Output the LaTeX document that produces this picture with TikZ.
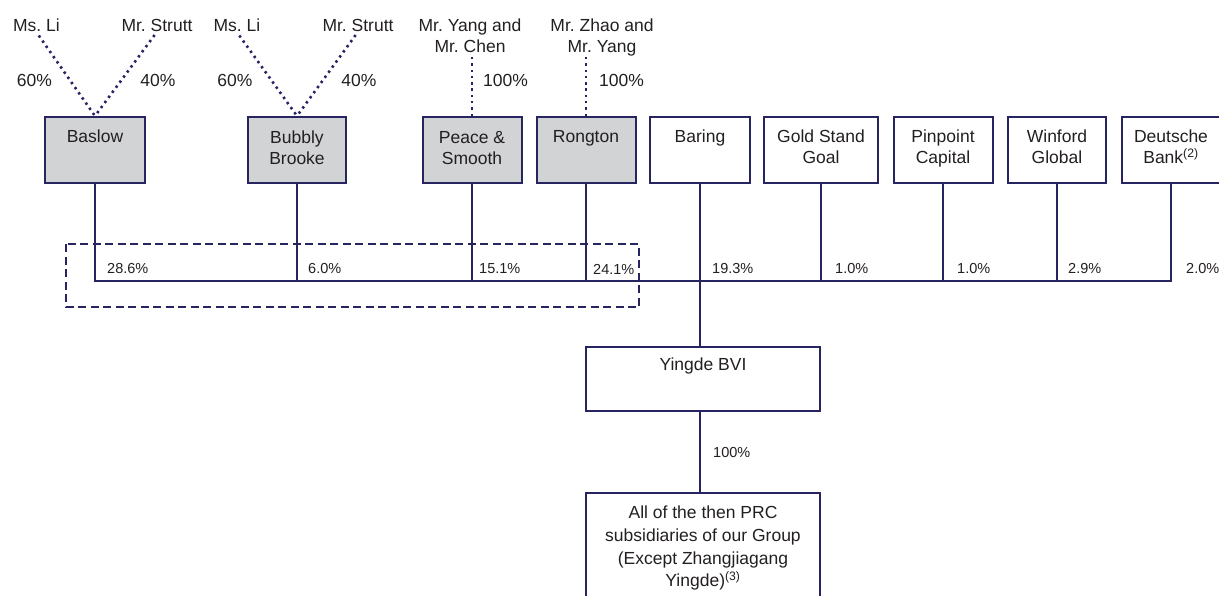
\documentclass[tikz,border=0pt]{standalone}
\usepackage{fontspec}
\setmainfont{Liberation Sans}
\usetikzlibrary{calc}
\definecolor{navy}{RGB}{38,37,98}
\definecolor{boxgrey}{RGB}{209,211,212}
\definecolor{ink}{RGB}{35,31,32}
\frenchspacing

\begin{document}
\begin{tikzpicture}[x=1pt,y=-1pt,
  every node/.style={text=ink},
  entity/.style={draw=navy, line width=2pt, minimum height=66pt, inner sep=0pt},
  held/.style={entity, fill=boxgrey},
  boxtext/.style={anchor=north, inner sep=0pt, align=center, font=\fontsize{17.5}{21}\selectfont},
  owner/.style={anchor=north, inner sep=0pt, align=center, font=\fontsize{17.5}{21}\selectfont},
  share/.style={inner sep=0pt, font=\fontsize{17.5}{21}\selectfont},
  pct/.style={anchor=west, inner sep=0pt, font=\fontsize{14.5}{17}\selectfont},
  link/.style={draw=navy, line width=2pt, line join=miter},
  own/.style={draw=navy, line width=2.6pt, dash pattern=on 2.4pt off 3.9pt},
  group/.style={draw=navy, line width=2pt, dash pattern=on 8pt off 4.5pt}
]
\clip (0,0) rectangle (1219,595);

% shareholder boxes
\node[held, minimum width=100pt] (baslow)   at (95,150)  {};
\node[held, minimum width=98pt]  (bubbly)   at (297,150) {};
\node[held, minimum width=99pt]  (peace)    at (472,150) {};
\node[held, minimum width=99pt]  (rongton)  at (586,150) {};
\node[entity, minimum width=100pt] (baring)   at (700,150)  {};
\node[entity, minimum width=114pt] (gold)     at (821,150)  {};
\node[entity, minimum width=99pt]  (pinpoint) at (943,150)  {};
\node[entity, minimum width=98pt]  (winford)  at (1057,150) {};
\node[entity, minimum width=98pt]  (deutsche) at (1171,150) {};

\node[boxtext] (tbaslow)   at ($(baslow.north)+(0,14)$)   {Baslow};
\node[boxtext] (tbubbly)   at ($(bubbly.north)+(0,15)$)   {Bubbly\\Brooke};
\node[boxtext] (tpeace)    at ($(peace.north)+(0,15)$)    {Peace \&\\Smooth};
\node[boxtext] (trongton)  at ($(rongton.north)+(0,14)$)  {Rongton};
\node[boxtext] (tbaring)   at ($(baring.north)+(0,14)$)   {Baring};
\node[boxtext] (tgold)     at ($(gold.north)+(0,14)$)     {Gold Stand\\Goal};
\node[boxtext] (tpinpoint) at ($(pinpoint.north)+(0,14)$) {Pinpoint\\Capital};
\node[boxtext] (twinford)  at ($(winford.north)+(0,14)$)  {Winford\\Global};
\node[boxtext] (tdeutsche) at ($(deutsche.north)+(0,14)$) {Deutsche\\Bank\textsuperscript{(2)}};

% ultimate owners
\node[owner] (li1)      at (36.5,19) {Ms. Li};
\node[owner] (strutt1)  at (157,19)  {Mr. Strutt};
\node[owner] (li2)      at (237,19)  {Ms. Li};
\node[owner] (strutt2)  at (358,19)  {Mr. Strutt};
\node[owner] (yangchen) at (470,19)  {Mr. Yang and\\Mr. Chen};
\node[owner] (zhaoyang) at (602,19)  {Mr. Zhao and\\Mr. Yang};

\draw[own, shorten <=4pt] (li1.south) -- (baslow.north);
\draw[own, shorten <=4pt] (strutt1.south) -- (baslow.north);
\draw[own, shorten <=4pt] (li2.south) -- (bubbly.north);
\draw[own, shorten <=4pt] (strutt2.south) -- (bubbly.north);
\draw[own] (peace.north) -- (peace.north |- yangchen.south);
\draw[own] (rongton.north) -- ($(rongton.north |- zhaoyang.south)+(0,-1)$);

\node[share] (p1) at (34.5,80) {60\%};
\node[share] (p2) at (158,80)  {40\%};
\node[share] (p3) at (235,80)  {60\%};
\node[share] (p4) at (359,80)  {40\%};
\node[share, anchor=west] (p5) at (483,80) {100\%};
\node[share, anchor=west] (p6) at (599,80) {100\%};

% acting-in-concert group
\draw[group] (66,244) rectangle (639,307);

% shareholding bus
\coordinate (bus) at (0,281);
\draw[link] (baslow.south) -- (baslow.south |- bus) -- (deutsche.south |- bus) -- (deutsche.south);
\foreach \n in {bubbly,peace,rongton,gold,pinpoint,winford}
  \draw[link] (\n.south) -- (\n.south |- bus);

\node[pct] (s1) at (107,269)  {28.6\%};
\node[pct] (s2) at (308,269)  {6.0\%};
\node[pct] (s3) at (479,269)  {15.1\%};
\node[pct] (s4) at (593,269)  {24.1\%};
\node[pct] (s5) at (712,269)  {19.3\%};
\node[pct] (s6) at (835,269)  {1.0\%};
\node[pct] (s7) at (957,269)  {1.0\%};
\node[pct] (s8) at (1068,269) {2.9\%};
\node[pct] (s9) at (1186,269) {2.0\%};

% Yingde BVI and the PRC subsidiaries
\node[entity, minimum width=234pt, minimum height=64pt] (yingde) at (703,379) {};
\node[boxtext] (tyingde) at ($(yingde.north)+(0,12)$) {Yingde BVI};
\node[entity, minimum width=234pt, minimum height=107pt] (prc) at (703,546.5) {};
\node[boxtext, font=\fontsize{17.5}{22.6}\selectfont] (tprc) at ($(prc.north)+(0,14)$)
  {All of the then PRC\\subsidiaries of our Group\\(Except Zhangjiagang\\Yingde)\textsuperscript{(3)}};

\draw[link] (baring.south) -- (baring.south |- yingde.north);
\draw[link] (yingde.south -| baring.south) -- (prc.north -| baring.south);
\node[pct] (s10) at (713,453) {100\%};
\end{tikzpicture}
\end{document}
